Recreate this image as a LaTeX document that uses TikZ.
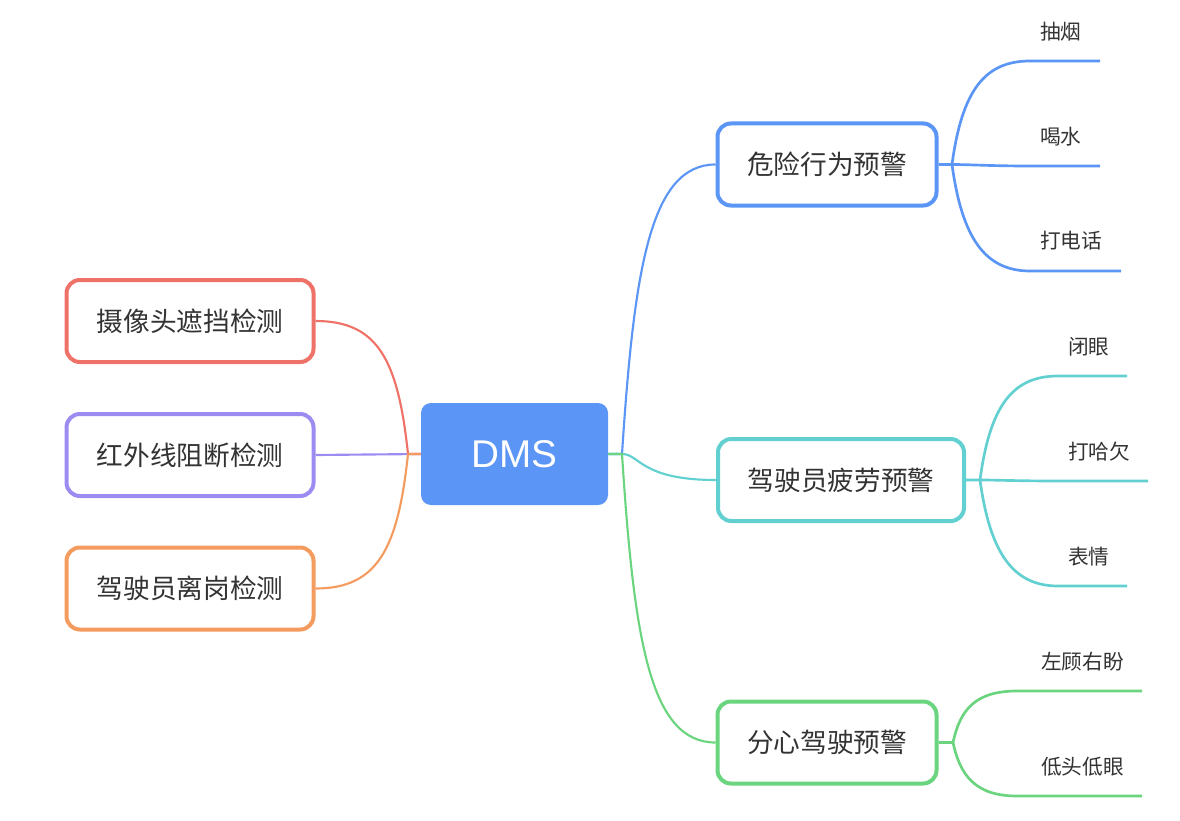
\documentclass[tikz,border=0pt]{standalone}
\usepackage{fontspec}
\setmainfont{Noto Sans CJK SC}
\newfontfamily\latinsans{Liberation Sans}
\definecolor{cblue}{HTML}{5B95F5}
\definecolor{cteal}{HTML}{62D0D0}
\definecolor{cgreen}{HTML}{6AD47E}
\definecolor{cred}{HTML}{EE7268}
\definecolor{cpurple}{HTML}{9C8CF2}
\definecolor{corange}{HTML}{F49C5F}
\definecolor{ctext}{HTML}{333333}
\begin{document}
\begin{tikzpicture}[x=0.75pt,y=-0.75pt,
  rootbox/.style={rectangle,rounded corners=7.5pt,fill=cblue,text=white,
    minimum width=140.25pt,minimum height=76.5pt,inner sep=0pt,
    font=\latinsans\fontsize{29}{29}\selectfont},
  mainbox/.style={rectangle,rounded corners=10pt,draw,line width=3pt,fill=white,
    minimum height=61.5pt,inner sep=0pt,text=ctext,
    font=\fontsize{20}{20}\selectfont},
  leaftext/.style={anchor=west,inner sep=0pt,text=ctext,
    font=\fontsize{15.5}{15.5}\selectfont},
  conn/.style={line width=1.6pt},
  leafline/.style={line width=2pt},
]
\useasboundingbox (0,0) rectangle (1180,820);

% connectors (drawn first)
\coordinate (jl) at (408,454);
\coordinate (jr) at (622,454);

% nodes
\node[rootbox] (dms) at (514.5,454) {DMS};
\node[mainbox,draw=cblue,minimum width=164.25pt] (warn1) at (827,164.5) {危险行为预警};
\node[mainbox,draw=cteal,minimum width=184.5pt] (warn2) at (841,480) {驾驶员疲劳预警};
\node[mainbox,draw=cgreen,minimum width=164.25pt] (warn3) at (827,742.5) {分心驾驶预警};
\node[mainbox,draw=cred,minimum width=185.25pt] (left1) at (190,321) {摄像头遮挡检测};
\node[mainbox,draw=cpurple,minimum width=185.25pt] (left2) at (190,455) {红外线阻断检测};
\node[mainbox,draw=corange,minimum width=185.25pt] (left3) at (190,588.5) {驾驶员离岗检测};

% left connectors
\draw[conn,cpurple] (left2.east) -- (dms.west);
\draw[conn,cred] (dms.west) -- (jl) .. controls (398,360) and (378,321) .. (left1.east);
\draw[conn,corange] (dms.west) -- (jl) .. controls (398,548) and (378,588.5) .. (left3.east);

% right connectors
\draw[conn,cblue] (dms.east) -- (jr) .. controls (634,270) and (650,164.5) .. (warn1.west);
\draw[conn,cteal] (dms.east) -- (jr) .. controls (640,454) and (640,480) .. (warn2.west);
\draw[conn,cgreen] (dms.east) -- (jr) .. controls (634,640) and (650,742.5) .. (warn3.west);

% leaves of warn1
\node[leaftext] (a1) at (1040,32) {抽烟};
\node[leaftext] (a2) at (1040,137) {喝水};
\node[leaftext] (a3) at (1040,241) {打电话};
\coordinate (jA) at (952,164.5);
\coordinate (eA1) at (1100,61);
\coordinate (eA2) at (1100,166);
\coordinate (eA3) at (1121,271);
\draw[leafline,cblue] (warn1.east) -- (jA) .. controls (962,90) and (985,61) .. (1030,61) -- (eA1);
\draw[leafline,cblue] (jA) .. controls (970,164.5) and (990,166) .. (1030,166) -- (eA2);
\draw[leafline,cblue] (jA) .. controls (962,238) and (985,271) .. (1030,271) -- (eA3);

% leaves of warn2
\node[leaftext] (b1) at (1068,347) {闭眼};
\node[leaftext] (b2) at (1068,452) {打哈欠};
\node[leaftext] (b3) at (1068,557) {表情};
\coordinate (jB) at (980,480);
\coordinate (eB1) at (1127,376);
\coordinate (eB2) at (1148,481);
\coordinate (eB3) at (1127,586);
\draw[leafline,cteal] (warn2.east) -- (jB) .. controls (990,405) and (1013,376) .. (1058,376) -- (eB1);
\draw[leafline,cteal] (jB) .. controls (998,480) and (1018,481) .. (1058,481) -- (eB2);
\draw[leafline,cteal] (jB) .. controls (990,553) and (1013,586) .. (1058,586) -- (eB3);

% leaves of warn3
\node[leaftext] (c1) at (1041,662) {左顾右盼};
\node[leaftext] (c2) at (1041,767) {低头低眼};
\coordinate (jC) at (953,742.5);
\coordinate (eC1) at (1142,691);
\coordinate (eC2) at (1142,796);
\draw[leafline,cgreen] (warn3.east) -- (jC) .. controls (960,710) and (975,691) .. (1017,691) -- (eC1);
\draw[leafline,cgreen] (jC) .. controls (960,775) and (975,796) .. (1017,796) -- (eC2);
\end{tikzpicture}
\end{document}
